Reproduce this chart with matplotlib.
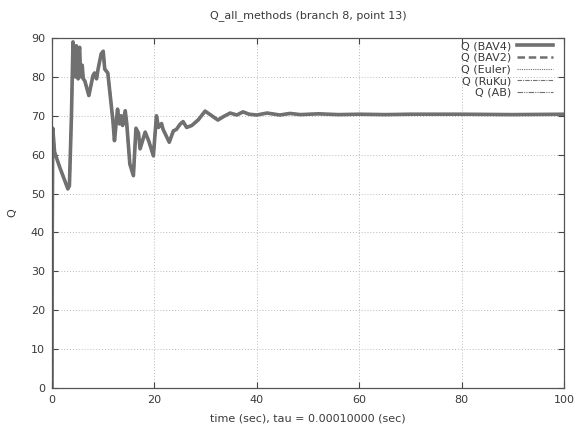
import matplotlib
matplotlib.use("Agg")
import matplotlib.pyplot as plt

# Flow rate Q over time for branch 8, point 13 (all integration methods coincide)
time_s = [0.0, 0.05, 0.15, 0.5, 0.8, 1.5, 2.3, 3.1, 3.4, 3.8, 4.1, 4.25, 4.4, 4.55,
          4.75, 4.9, 5.1, 5.25, 5.4, 5.55, 5.7, 5.9, 6.1, 6.4, 7.2, 8.0, 8.3, 8.7,
          9.0, 9.6, 10.0, 10.3, 10.9, 11.9, 12.2, 12.8, 13.2, 13.5, 13.8, 14.3, 14.6,
          15.2, 15.9, 16.4, 16.9, 17.2, 18.2, 18.9, 19.8, 20.4, 20.8, 21.4, 21.7,
          22.9, 23.7, 24.3, 25.0, 25.6, 26.3, 27.3, 28.6, 29.9, 31.0, 32.4, 33.5,
          34.8, 36.1, 37.3, 38.5, 40.0, 42.0, 44.5, 46.5, 48.5, 52.0, 56.0, 60.0,
          65.0, 70.0, 80.0, 90.0, 100.0]
q_values = [0.0, 40.0, 66.8, 60.7, 59.5, 56.8, 54.0, 51.2, 52.0, 70.0, 89.0, 81.0,
            87.5, 80.0, 88.0, 81.5, 79.5, 86.5, 87.6, 81.0, 80.0, 83.0, 79.5, 79.0,
            75.2, 80.3, 81.0, 79.5, 82.0, 85.9, 86.6, 82.0, 81.0, 68.7, 63.6, 71.7,
            67.9, 70.0, 67.5, 71.3, 68.0, 57.6, 54.6, 66.8, 65.5, 61.5, 65.8, 63.5,
            59.7, 70.0, 67.0, 68.0, 66.5, 63.2, 66.1, 66.5, 67.8, 68.5, 67.0, 67.5,
            69.0, 71.2, 70.2, 68.9, 69.8, 70.7, 70.2, 71.0, 70.4, 70.2, 70.7, 70.2,
            70.6, 70.3, 70.5, 70.3, 70.4, 70.3, 70.4, 70.4, 70.3, 70.4]

methods = ["Q (BAV4)", "Q (BAV2)", "Q (Euler)", "Q (RuKu)", "Q (AB)"]
styles = [
    dict(ls="-", lw=2.6),
    dict(ls=(0, (3, 1.5)), lw=1.8),
    dict(ls=(0, (1, 1)), lw=0.8),
    dict(ls=(0, (4, 1, 1, 1)), lw=0.8),
    dict(ls=(0, (5, 1, 1, 1, 1, 1)), lw=0.8),
]
line_color = "#707070"
text_color = "#3a3a3a"

plt.rcParams["font.family"] = ["DejaVu Sans"]
fig = plt.figure(figsize=(5.74, 4.30), dpi=100)
ax = fig.add_axes([52 / 574, 42 / 430, 512 / 574, 350 / 430])

for name, st in zip(methods, styles):
    ax.plot(time_s, q_values, color=line_color, label=name, **st)

ax.set_xlim(0, 100)
ax.set_ylim(0, 90)
ax.set_xticks(range(0, 101, 20))
ax.set_yticks(range(0, 91, 10))
ax.grid(True, color="#bbbbbb", ls=(0, (1, 2)), lw=0.7)
ax.tick_params(direction="in", top=True, right=True, length=4, width=0.8,
               colors="#444444", labelsize=8, labelcolor=text_color, pad=5)
for sp in ax.spines.values():
    sp.set_color("#555555")
    sp.set_linewidth(0.9)

ax.set_title("Q_all_methods (branch 8, point 13)", fontsize=8, color=text_color, pad=14)
ax.set_xlabel("time (sec), tau = 0.00010000 (sec)", fontsize=8, color=text_color, labelpad=6)
ax.set_ylabel("Q", fontsize=8, color=text_color, labelpad=10)

leg = ax.legend(loc="upper right", frameon=False, markerfirst=False, fontsize=8,
                handlelength=3.2, labelspacing=0.15, borderaxespad=0.1,
                borderpad=0.2, handletextpad=0.6, labelcolor=text_color,
                bbox_to_anchor=(0.985, 1.0))

fig.savefig("out.png", dpi=100)
